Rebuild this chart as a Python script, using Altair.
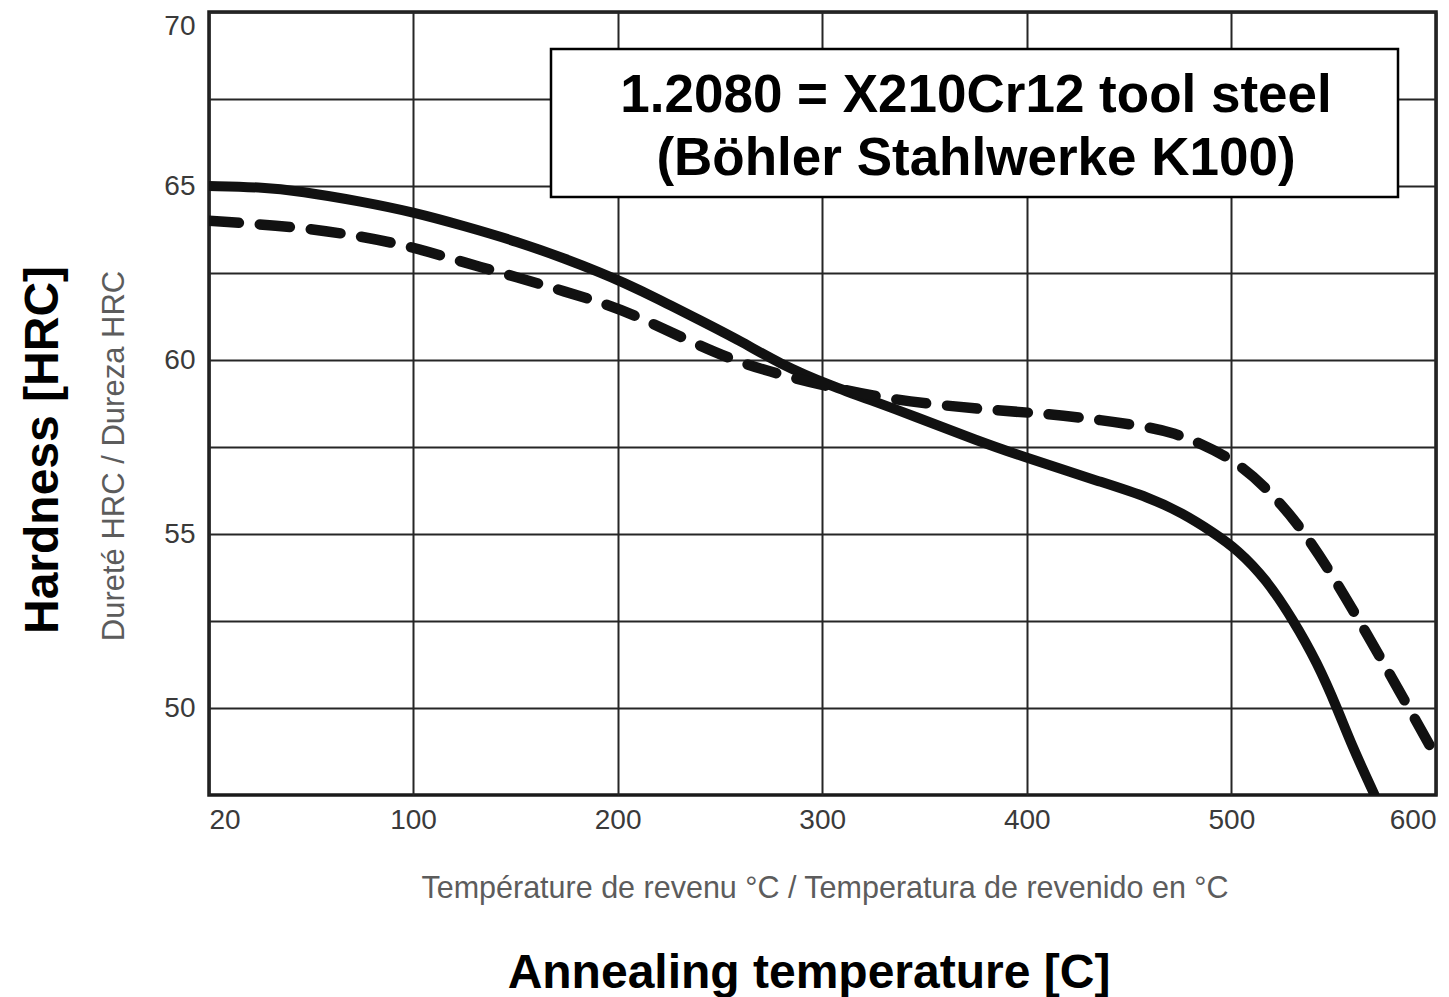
import altair as alt
import pandas as pd

# ---- data ----
solid_temp = [20, 40, 56, 80, 100, 125, 151, 175, 192, 202, 220, 240, 260, 279, 302,
              338, 377, 402, 436, 460, 476, 491, 503, 517, 530, 542, 552, 559, 570]
solid_hrc = [65.0, 64.97, 64.85, 64.55, 64.25, 63.85, 63.4, 62.9, 62.5, 62.25, 61.75, 61.15, 60.55, 59.9, 59.3,
             58.55, 57.65, 57.15, 56.5, 56.05, 55.6, 55.05, 54.55, 53.7, 52.55, 51.3, 49.95, 48.9, 47.5]

dashed_temp = [20, 56, 80, 100, 125, 151, 175, 192, 208, 232, 256, 278, 302, 330, 358,
               385, 411, 436, 460, 472, 485, 501, 517, 534, 550, 566, 582, 600]
dashed_hrc = [64.0, 63.82, 63.55, 63.25, 62.8, 62.38, 61.95, 61.65, 61.3, 60.63, 60.0, 59.6, 59.25, 58.9, 58.7,
              58.55, 58.45, 58.28, 58.07, 57.9, 57.6, 57.13, 56.35, 55.2, 53.76, 52.15, 50.5, 48.6]

x_ticks = [20, 100, 200, 300, 400, 500, 600]
y_ticks = [50, 52.5, 55, 57.5, 60, 62.5, 65, 67.5, 70]

box_line1 = "1.2080 = X210Cr12 tool steel"
box_line2 = "(Böhler Stahlwerke K100)"
x_title_fr = "Température de revenu °C / Temperatura de revenido en °C"
y_title_fr = "Dureté  HRC / Dureza  HRC"
x_title_en = "Annealing temperature [C]"
y_title_en = "Hardness [HRC]"

df = pd.concat([
    pd.DataFrame({"temp": solid_temp, "hrc": solid_hrc, "series": "solid"}),
    pd.DataFrame({"temp": dashed_temp, "hrc": dashed_hrc, "series": "dashed"}),
])

W, H = 1227, 783

xscale = alt.Scale(domain=[20, 100, 600], range=[0, 204, W])
yscale = alt.Scale(domain=[47.5, 70])

grid_style = dict(grid=True, gridColor="#262626", gridWidth=2, ticks=False, domain=False,
                  labelFont="Liberation Sans", labelFontSize=28, labelColor="#3a3a3a",
                  labelFlush=True, title=None)

xaxis = alt.Axis(values=x_ticks, labelPadding=11, **grid_style)
yaxis = alt.Axis(values=y_ticks, labelPadding=14,
                 labelExpr="datum.value % 5 === 0 ? datum.label : ''", **grid_style)

base = alt.Chart(df)

solid = base.transform_filter(alt.datum.series == "solid").mark_line(
    color="#111111", strokeWidth=10, interpolate="basis", strokeCap="round", clip=True
).encode(
    x=alt.X("temp:Q", scale=xscale, axis=xaxis),
    y=alt.Y("hrc:Q", scale=yscale, axis=yaxis),
)

dashed = base.transform_filter(alt.datum.series == "dashed").mark_line(
    color="#111111", strokeWidth=10.5, interpolate="basis", strokeCap="round",
    strokeDash=[30, 21], clip=True
).encode(
    x=alt.X("temp:Q", scale=xscale, axis=xaxis),
    y=alt.Y("hrc:Q", scale=yscale, axis=yaxis),
)

one = pd.DataFrame({"k": [0]})

box = alt.Chart(one).mark_rect(fill="white", stroke="#000000", strokeWidth=2.5).encode(
    x=alt.value(342), x2=alt.value(1189), y=alt.value(37), y2=alt.value(185)
)

def label(text, x, y, size, weight="normal", color="#000000", angle=0):
    return alt.Chart(pd.DataFrame({"t": [text]})).mark_text(
        font="Liberation Sans", fontSize=size, fontWeight=weight, color=color,
        align="center", baseline="alphabetic", angle=angle
    ).encode(x=alt.value(x), y=alt.value(y), text="t:N")

t1 = label(box_line1, 767, 99.6, 53, "bold")
t2 = label(box_line2, 767, 163.2, 53, "bold")
tx_fr = label(x_title_fr, 616, 886, 30.5, color="#5c5c5c")
ty_fr = label(y_title_fr, -85, 444, 31, color="#5c5c5c", angle=270)
tx_en = label(x_title_en, 600, 976, 48, "bold")
ty_en = label(y_title_en, -151, 438, 48, "bold", angle=270)

chart = alt.layer(solid, dashed, box, t1, t2, tx_fr, ty_fr, tx_en, ty_en).properties(
    width=W, height=H,
    autosize=alt.AutoSizeParams(type="none"),
    padding={"left": 209, "top": 12, "right": 13, "bottom": 202},
    background="white",
).configure_view(stroke="#1a1a1a", strokeWidth=3.5)

chart.save("out.html", embed_options={"renderer": "svg", "actions": False})
